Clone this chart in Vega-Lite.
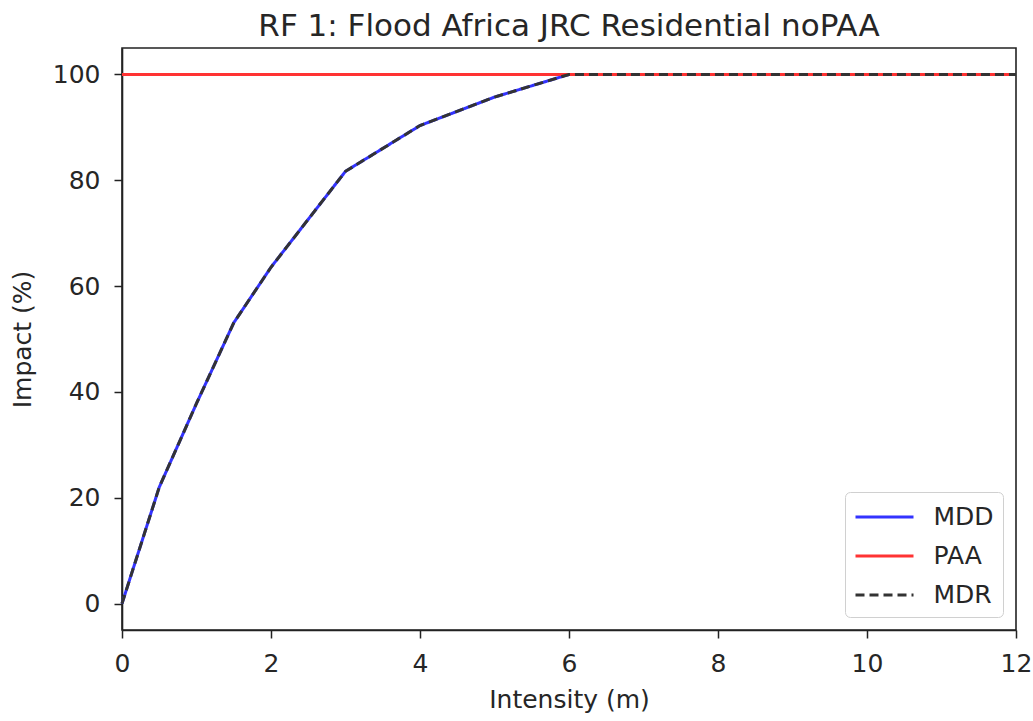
{
  "$schema": "https://vega.github.io/schema/vega-lite/v6.json",
  "width": 894,
  "height": 582,
  "autosize": {"type": "none"},
  "padding": {"left": 122, "top": 48, "right": 17, "bottom": 91},
  "background": "white",
  "title": {"text": "RF 1: Flood Africa JRC Residential noPAA", "font": "DejaVu Sans", "fontSize": 31, "fontWeight": "normal", "color": "#262626", "offset": 5},
  "config": {
    "view": {"stroke": "#222222", "strokeWidth": 1.6},
    "axis": {
      "domainColor": "#222222", "domainWidth": 1.6, "tickColor": "#222222", "tickWidth": 1.5, "tickSize": 8,
      "labelFont": "DejaVu Sans", "labelFontSize": 25, "labelColor": "#262626", "labelFlush": false,
      "titleFont": "DejaVu Sans", "titleFontSize": 25, "titleFontWeight": "normal", "titleColor": "#262626",
      "grid": false
    },
    "legend": {
      "orient": "bottom-right", "offset": 13, "strokeColor": "#d0d0d0", "fillColor": "rgba(255,255,255,0.8)", "cornerRadius": 5, "padding": 9,
      "labelFont": "DejaVu Sans", "labelFontSize": 25, "labelColor": "#262626", "symbolType": "M-2,0H2", "symbolSize": 841,
      "symbolStrokeWidth": 3, "rowPadding": 10, "symbolOffset": 14.5, "labelOffset": 33
    }
  },
  "data": {"values": [
    {"series": "MDD", "intensity": 0, "impact": 0},
    {"series": "MDD", "intensity": 0.5, "impact": 21.99},
    {"series": "MDD", "intensity": 1, "impact": 37.82},
    {"series": "MDD", "intensity": 1.5, "impact": 53.06},
    {"series": "MDD", "intensity": 2, "impact": 63.56},
    {"series": "MDD", "intensity": 3, "impact": 81.69},
    {"series": "MDD", "intensity": 4, "impact": 90.34},
    {"series": "MDD", "intensity": 5, "impact": 95.72},
    {"series": "MDD", "intensity": 6, "impact": 100},
    {"series": "MDD", "intensity": 12, "impact": 100},
    {"series": "PAA", "intensity": 0, "impact": 100},
    {"series": "PAA", "intensity": 0.5, "impact": 100},
    {"series": "PAA", "intensity": 1, "impact": 100},
    {"series": "PAA", "intensity": 1.5, "impact": 100},
    {"series": "PAA", "intensity": 2, "impact": 100},
    {"series": "PAA", "intensity": 3, "impact": 100},
    {"series": "PAA", "intensity": 4, "impact": 100},
    {"series": "PAA", "intensity": 5, "impact": 100},
    {"series": "PAA", "intensity": 6, "impact": 100},
    {"series": "PAA", "intensity": 12, "impact": 100},
    {"series": "MDR", "intensity": 0, "impact": 0},
    {"series": "MDR", "intensity": 0.5, "impact": 21.99},
    {"series": "MDR", "intensity": 1, "impact": 37.82},
    {"series": "MDR", "intensity": 1.5, "impact": 53.06},
    {"series": "MDR", "intensity": 2, "impact": 63.56},
    {"series": "MDR", "intensity": 3, "impact": 81.69},
    {"series": "MDR", "intensity": 4, "impact": 90.34},
    {"series": "MDR", "intensity": 5, "impact": 95.72},
    {"series": "MDR", "intensity": 6, "impact": 100},
    {"series": "MDR", "intensity": 12, "impact": 100}
  ]},
  "encoding": {
    "x": {"field": "intensity", "type": "quantitative", "scale": {"domain": [0, 12], "nice": false, "zero": false}, "axis": {"values": [0, 2, 4, 6, 8, 10, 12], "title": "Intensity (m)", "labelPadding": 13, "titlePadding": 11}},
    "y": {"field": "impact", "type": "quantitative", "scale": {"domain": [-5, 105], "nice": false, "zero": false}, "axis": {"values": [0, 20, 40, 60, 80, 100], "title": "Impact (%)", "labelPadding": 14, "titlePadding": 17}},
    "color": {"field": "series", "type": "nominal", "scale": {"domain": ["MDD", "PAA", "MDR"], "range": ["#3333ff", "#ff3333", "#333333"]}, "legend": {"title": null}},
    "strokeDash": {"field": "series", "type": "nominal", "scale": {"domain": ["MDD", "PAA", "MDR"], "range": [[1, 0], [1, 0], [9, 5]]}, "legend": {"title": null}}
  },
  "layer": [
    {"transform": [{"filter": "datum.series === 'MDD'"}], "mark": {"type": "line", "strokeWidth": 3}},
    {"transform": [{"filter": "datum.series === 'PAA'"}], "mark": {"type": "line", "strokeWidth": 3}},
    {"transform": [{"filter": "datum.series === 'MDR'"}], "mark": {"type": "line", "strokeWidth": 3}}
  ]
}
